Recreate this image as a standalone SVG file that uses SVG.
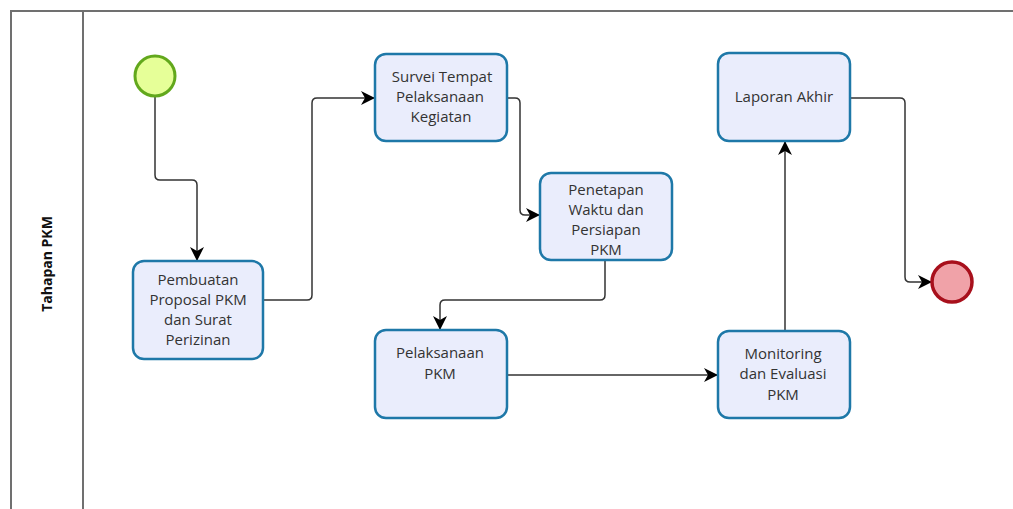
<svg xmlns="http://www.w3.org/2000/svg" width="1013" height="509" viewBox="0 0 1013 509">
<defs>
<marker id="arr" viewBox="0 0 14 14" refX="13" refY="7" markerWidth="14" markerHeight="14" markerUnits="userSpaceOnUse" orient="auto">
<path d="M0,0 L14,7 L0,14 L4,7 z" fill="#000"/>
</marker>
<style>
.lane{fill:none;stroke:#707070;stroke-width:2}
.task{fill:#eaedfc;stroke:#1e78a8;stroke-width:2.5}
.t{font-family:"Open Sans","Liberation Sans",sans-serif;font-size:15px;fill:#333;text-anchor:middle}
.conn{fill:none;stroke:#333;stroke-width:1.5}
</style>
</defs>
<rect width="1013" height="509" fill="#fff"/>
<g id="lane">
<path class="lane" d="M11,509 V11 H1013 M83,11 V509"/>
<text transform="translate(52,264) rotate(-90)" style="font-family:'Open Sans','Liberation Sans',sans-serif;font-size:14px;font-weight:bold;fill:#111;text-anchor:middle">Tahapan PKM</text>
</g>
<g id="connectors">
<path class="conn" d="M155,96 V175 Q155,180 160,180 H192 Q197,180 197,185 V260" marker-end="url(#arr)"/>
<path class="conn" d="M263,300 H307 Q312,300 312,295 V103 Q312,98 317,98 H374" marker-end="url(#arr)"/>
<path class="conn" d="M507,98 H515 Q520,98 520,103 V210 Q520,215 525,215 H539" marker-end="url(#arr)"/>
<path class="conn" d="M605,260 V295 Q605,300 600,300 H445 Q440,300 440,305 V329" marker-end="url(#arr)"/>
<path class="conn" d="M507,375 H717" marker-end="url(#arr)"/>
<path class="conn" d="M785,331 V142" marker-end="url(#arr)"/>
<path class="conn" d="M850,98 H900 Q905,98 905,103 V277 Q905,282 910,282 H931" marker-end="url(#arr)"/>
</g>
<g id="start">
<circle cx="155" cy="76" r="20" fill="#e6ff98" stroke="#62a81c" stroke-width="3"/>
</g>
<g id="task1">
<rect class="task" x="133" y="261" width="130" height="98" rx="11"/>
<text class="t" x="198" y="285">Pembuatan</text>
<text class="t" x="198" y="305">Proposal PKM</text>
<text class="t" x="198" y="325">dan Surat</text>
<text class="t" x="198" y="345">Perizinan</text>
</g>
<g id="task2">
<rect class="task" x="375" y="54" width="132" height="87" rx="11"/>
<text class="t" x="442" y="82">Survei Tempat</text>
<text class="t" x="440" y="102">Pelaksanaan</text>
<text class="t" x="441" y="122">Kegiatan</text>
</g>
<g id="task3">
<rect class="task" x="540" y="173" width="132" height="87" rx="11"/>
<text class="t" x="606" y="195">Penetapan</text>
<text class="t" x="606" y="215">Waktu dan</text>
<text class="t" x="606" y="235">Persiapan</text>
<text class="t" x="606" y="255">PKM</text>
</g>
<g id="task4">
<rect class="task" x="375" y="330" width="132" height="88" rx="11"/>
<text class="t" x="440" y="358">Pelaksanaan</text>
<text class="t" x="440" y="379">PKM</text>
</g>
<g id="task5">
<rect class="task" x="718" y="331" width="132" height="87" rx="11"/>
<text class="t" x="783" y="359">Monitoring</text>
<text class="t" x="783" y="379">dan Evaluasi</text>
<text class="t" x="783" y="400">PKM</text>
</g>
<g id="task6">
<rect class="task" x="718" y="53" width="132" height="88" rx="11"/>
<text class="t" x="784" y="102">Laporan Akhir</text>
</g>
<g id="end">
<circle cx="952" cy="282" r="20" fill="#f0a2a8" stroke="#a8101c" stroke-width="3.5"/>
</g>
</svg>
